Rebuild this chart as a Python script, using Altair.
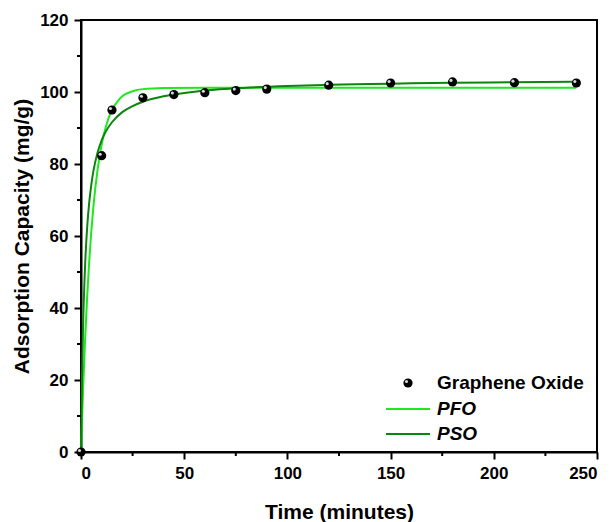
import altair as alt
import pandas as pd

# Experimental data (Graphene Oxide)
t_obs = [0, 10, 15, 30, 45, 60, 75, 90, 120, 150, 180, 210, 240]
q_obs = [0, 82.3, 95.0, 98.4, 99.3, 99.8, 100.4, 100.8, 101.9, 102.5, 102.8, 102.6, 102.5]

# PFO fitted curve
t_pfo = [0, 1, 2, 3, 4, 5, 6, 8, 10, 12, 15, 18, 20, 25, 30, 40, 60, 100, 150, 200, 240]
q_pfo = [0, 17.2, 31.4, 43.3, 53.1, 61.3, 68.1, 78.3, 85.4, 90.3, 95.0, 97.6, 98.8, 100.2, 100.8, 101.1, 101.2, 101.2, 101.2, 101.2, 101.2]

# PSO fitted curve
t_pso = [0, 0.5, 1, 2, 3, 4, 5, 6, 8, 10, 12, 15, 20, 25, 30, 40, 50, 60, 80, 100, 120, 150, 180, 210, 240]
q_pso = [0, 20.9, 34.8, 52.1, 62.5, 69.4, 74.3, 78.0, 83.1, 86.6, 89.0, 91.6, 94.4, 96.1, 97.3, 98.8, 99.7, 100.4, 101.2, 101.7, 102.0, 102.3, 102.6, 102.7, 102.85]

x_major = [0, 50, 100, 150, 200, 250]
x_minor = [25, 75, 125, 175, 225]
y_major = [0, 20, 40, 60, 80, 100, 120]
y_minor = [10, 30, 50, 70, 90, 110]

PFO_COLOR = "#1ee81e"
PSO_COLOR = "#0c850c"
FONT = "Liberation Sans"

obs = pd.DataFrame({"t": t_obs, "q": q_obs})
pfo = pd.DataFrame({"t": t_pfo, "q": q_pfo})
pso = pd.DataFrame({"t": t_pso, "q": q_pso})

xs = alt.Scale(domain=[0, 250], nice=False)
ys = alt.Scale(domain=[0, 120], nice=False)

X = alt.X("t:Q", scale=xs, title="Time (minutes)",
          axis=alt.Axis(values=x_major, titlePadding=20, labelPadding=6))
Y = alt.Y("q:Q", scale=ys, title="Adsorption Capacity (mg/g)",
          axis=alt.Axis(values=y_major, titlePadding=7, labelPadding=6))

line_pfo = alt.Chart(pfo).mark_line(color=PFO_COLOR, strokeWidth=2, interpolate="monotone").encode(x=X, y=Y)
line_pso = alt.Chart(pso).mark_line(color=PSO_COLOR, strokeWidth=2, interpolate="monotone").encode(x=X, y=Y)

pts = alt.Chart(obs).mark_circle(color="black", size=85, opacity=1).encode(x=X, y=Y)
hl = alt.Chart(obs).mark_circle(color="#d8d8d8", size=10, opacity=1, xOffset=-1.5, yOffset=-1.5).encode(x=X, y=Y)

xminor_df = pd.DataFrame({"t": x_minor})
yminor_df = pd.DataFrame({"q": y_minor})
xminor = alt.Chart(xminor_df).mark_rule(color="black", strokeWidth=2).encode(
    x=alt.X("t:Q", scale=xs), y=alt.value(432), y2=alt.value(436))
yminor = alt.Chart(yminor_df).mark_rule(color="black", strokeWidth=2).encode(
    y=alt.Y("q:Q", scale=ys), x=alt.value(-4), x2=alt.value(0))

# Legend
one = pd.DataFrame({"a": [0]})
leg_pt = alt.Chart(one).mark_circle(color="black", size=85, opacity=1).encode(
    x=alt.value(327), y=alt.value(363))
leg_hl = alt.Chart(one).mark_circle(color="#d8d8d8", size=10, opacity=1).encode(
    x=alt.value(325.5), y=alt.value(361.5))
leg_pfo = alt.Chart(one).mark_rule(color=PFO_COLOR, strokeWidth=2).encode(
    x=alt.value(305), x2=alt.value(349), y=alt.value(389))
leg_pso = alt.Chart(one).mark_rule(color=PSO_COLOR, strokeWidth=2).encode(
    x=alt.value(305), x2=alt.value(349), y=alt.value(414))
leg_t1 = alt.Chart(one).mark_text(
    text="Graphene Oxide", font=FONT, fontWeight="bold", fontSize=19, align="left", baseline="middle", color="black"
).encode(x=alt.value(356), y=alt.value(363))
leg_t2 = alt.Chart(one).mark_text(
    text="PFO", font=FONT, fontWeight="bold", fontStyle="italic", fontSize=19, align="left", baseline="middle", color="black"
).encode(x=alt.value(356), y=alt.value(389))
leg_t3 = alt.Chart(one).mark_text(
    text="PSO", font=FONT, fontWeight="bold", fontStyle="italic", fontSize=19, align="left", baseline="middle", color="black"
).encode(x=alt.value(356), y=alt.value(414))

chart = alt.layer(
    line_pfo, line_pso, pts, hl, xminor, yminor,
    leg_pt, leg_hl, leg_pfo, leg_pso, leg_t1, leg_t2, leg_t3
).properties(
    width=516, height=432,
    autosize="none",
    padding={"left": 73, "top": 12, "right": 8, "bottom": 70},
    background="white",
).configure_view(
    stroke="black", strokeWidth=2
).configure_axis(
    grid=False,
    domainColor="black", domainWidth=2,
    tickColor="black", tickWidth=2, tickSize=7,
    labelFont=FONT, labelFontWeight="bold", labelFontSize=17, labelColor="black",
    titleFont=FONT, titleFontWeight="bold", titleFontSize=21, titleColor="black",
)

chart.save("out.html", embed_options={"renderer": "svg", "actions": False})
